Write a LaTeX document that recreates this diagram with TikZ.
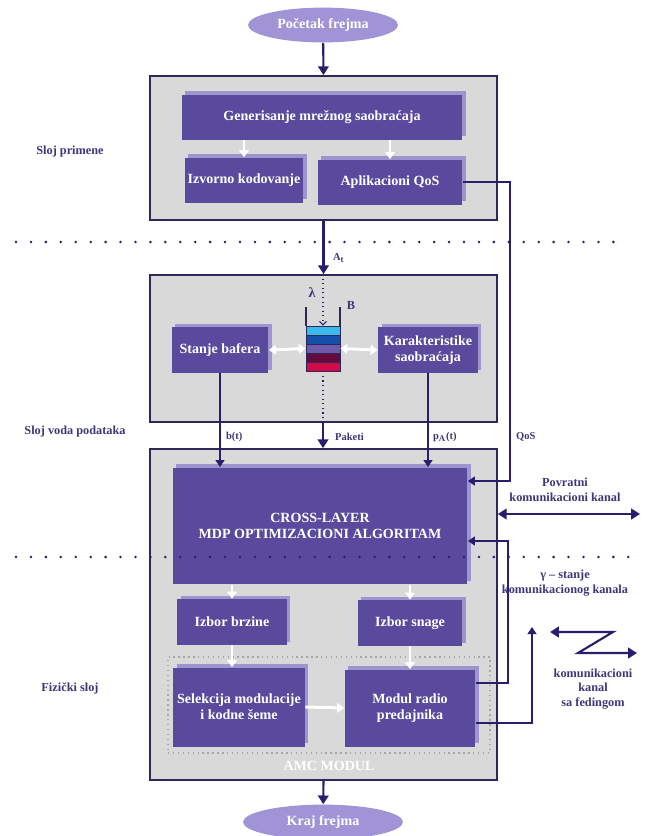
\documentclass[tikz,border=0pt]{standalone}
\usepackage{fontspec}
\setmainfont{Liberation Serif}
\usetikzlibrary{shapes.geometric, shadows, arrows.meta, positioning}

\definecolor{boxc}{RGB}{90,74,158}
\definecolor{shadowc}{RGB}{158,148,206}
\definecolor{panelc}{RGB}{217,217,217}
\definecolor{edgec}{RGB}{45,40,90}
\definecolor{arrowc}{RGB}{40,30,110}
\definecolor{labelc}{RGB}{60,55,120}
\definecolor{ellc}{RGB}{160,148,214}
\definecolor{bufa}{RGB}{60,185,235}
\definecolor{bufb}{RGB}{20,80,170}
\definecolor{bufc}{RGB}{110,90,170}
\definecolor{bufd}{RGB}{100,10,60}
\definecolor{bufe}{RGB}{210,10,70}

\begin{document}
\begin{tikzpicture}[
    x=0.02cm, y=-0.02cm,
    block/.style={rectangle, fill=boxc, text=white, font=\bfseries\fontsize{8}{9.2}\selectfont, align=center, inner sep=1pt,
        copy shadow={shadow xshift=0.07cm, shadow yshift=0.07cm, fill=shadowc, draw=none}},
    panel/.style={rectangle, draw=edgec, fill=panelc, line width=1pt, minimum width=6.94cm},
    endpoint/.style={ellipse, fill=ellc, text=white, font=\bfseries\fontsize{8}{9}\selectfont, minimum width=3cm, minimum height=0.68cm},
    layertext/.style={text=labelc, font=\bfseries\fontsize{7}{8.4}\selectfont, align=center},
    lbl/.style={text=labelc, font=\bfseries\fontsize{6}{7}\selectfont, inner sep=1pt},
    flow/.style={draw=arrowc, line width=1.2pt, -{Triangle[length=5pt,width=6pt]}},
    whiteflow/.style={draw=white, line width=1.7pt, -{Triangle[length=4pt,width=5.5pt]}},
    sigline/.style={draw=arrowc, line width=1pt, -{Triangle[length=4pt,width=5pt]}},
    divider/.style={draw=arrowc, line width=1.6pt, line cap=round, dash pattern=on 0pt off 8.5pt},
]
\useasboundingbox (0,0) rectangle (645,836);

% start / end of frame
\node (start) [endpoint] at (323,25) {Početak frejma};
\node (stop)  [endpoint, minimum width=3.2cm, minimum height=0.6cm] at (323,822) {Kraj frejma};

% layer panels
\node (app) [panel, minimum height=2.88cm] at (323.5,148) {};
\node (dll) [panel, minimum height=2.94cm] at (323.5,348.5) {};
\node (phy) [panel, minimum height=6.62cm] at (323.5,614.5) {};

\node (slojapp) [layertext] at (70,152) {Sloj primene};
\node (slojdll) [layertext] at (75,432) {Sloj voda podataka};
\node (slojphy) [layertext] at (70,688) {Fizički sloj};

% application layer
\node (gen)  [block, minimum width=5.62cm, minimum height=0.9cm] at (322,117) {Generisanje mrežnog saobraćaja};
\node (izv)  [block, minimum width=2.38cm, minimum height=0.9cm] at (244,180) {Izvorno kodovanje};
\node (qos)  [block, minimum width=2.9cm, minimum height=0.9cm] at (390,182) {Aplikacioni QoS};

% data link layer
\node (stanje) [block, minimum width=1.94cm, minimum height=0.92cm] at (220,350) {Stanje bafera};
\node (karak)  [block, minimum width=2.0cm, minimum height=0.92cm] at (428,350) {Karakteristike\\saobraćaja};
\node (buf) [minimum width=0.68cm, minimum height=0.9cm, inner sep=0pt] at (323,348.5) {};
\foreach \c [count=\i from 0] in {bufa,bufb,bufc,bufd,bufe}
    \draw[fill=\c, draw=edgec, line width=0.4pt] (306,{326+9*\i}) rectangle (340,{335+9*\i});
\draw[edgec, line width=0.7pt] (306,307) -- (306,326) (340,307) -- (340,326);
\node (lam)  [lbl, font=\bfseries\fontsize{8}{9}\selectfont] at (312,293) {λ};
\node (bcap) [lbl, font=\bfseries\fontsize{7}{8}\selectfont] at (351,305) {B};

% physical layer
\node (amc) [draw=gray!70, line width=1pt, dash pattern=on 0.8pt off 2pt, minimum width=6.44cm, minimum height=1.92cm] at (329,705) {};
\node (amclbl) [text=white, font=\bfseries\fontsize{8}{9}\selectfont, below=0.02cm of amc] {AMC MODUL};
\node (mdp)    [block, minimum width=5.9cm, minimum height=2.34cm] at (320,526) {CROSS-LAYER\\MDP OPTIMIZACIONI ALGORITAM};
\node (brzina) [block, minimum width=2.2cm, minimum height=0.92cm] at (232,622) {Izbor brzine};
\node (snaga)  [block, minimum width=2.1cm, minimum height=0.92cm] at (410,623) {Izbor snage};
\node (selek)  [block, minimum width=2.64cm, minimum height=1.58cm] at (239,707) {Selekcija modulacije\\i kodne šeme};
\node (modul)  [block, minimum width=2.62cm, minimum height=1.54cm] at (410,708) {Modul radio\\predajnika};

% main flow
\draw[flow] (start) -- (app.north);
\draw[flow] (app.south) -- (dll.north);
\node (arr) [lbl, anchor=west] at (331,258) {A\textsubscript{t}};
\draw[arrowc, line width=0.6pt, dotted, -{Straight Barb[length=2pt]}] (dll.north -| buf) -- (buf.north);
\draw[arrowc, line width=0.6pt, dotted] (buf.south) -- (dll.south -| buf);
\draw[flow] (dll.south -| buf) -- (phy.north -| buf);
\node (paketi) [lbl, anchor=west] at (333,437) {Paketi};
\draw[flow] (phy.south) -- (stop);

% inner white arrows
\draw[whiteflow] (izv.north |- gen.south) -- (izv.north);
\draw[whiteflow] (qos.north |- gen.south) -- (qos.north);
\draw[whiteflow, {Triangle[length=4pt,width=5.5pt]}-{Triangle[length=4pt,width=5.5pt]}] (stanje.east) -- (buf.west);
\draw[whiteflow, {Triangle[length=4pt,width=5.5pt]}-{Triangle[length=4pt,width=5.5pt]}] (buf.east) -- (karak.west);
\draw[whiteflow] (brzina.north |- mdp.south) -- (brzina.north);
\draw[whiteflow] (snaga.north |- mdp.south) -- (snaga.north);
\draw[whiteflow] (brzina.south) -- (brzina.south |- selek.north);
\draw[whiteflow] (snaga.south) -- (snaga.south |- modul.north);
\draw[whiteflow] (selek.east) -- (modul.west);

% signals to the algorithm
\draw[sigline] (stanje.south) -- (stanje.south |- mdp.north);
\node (bt) [lbl, anchor=west] at (224,437) {b(t)};
\draw[sigline] (karak.south) -- (karak.south |- mdp.north);
\node (pt) [lbl, anchor=west] at (431,437) {p\textsubscript{A}(t)};
\coordinate (qosx) at (510,0);
\draw[sigline] (qos.east) -- (qos.east -| qosx) |- ([yshift=0.9cm]mdp.east);
\node (qoslbl) [lbl, anchor=west] at (514,437) {QoS};
\coordinate (fbx) at (508,0);
\draw[sigline] ([yshift=0.5cm]modul.east) -- ([yshift=0.5cm]modul.east -| fbx) |- ([yshift=-0.3cm]mdp.east);
\coordinate (gamma) at (532,627);
\draw[sigline] ([yshift=-0.3cm]modul.east) -| (gamma);

% channel
\coordinate (povr) at (640,514);
\draw[flow, {Triangle[length=5pt,width=6pt]}-{Triangle[length=5pt,width=6pt]}] (povr -| phy.east) -- (povr);
\node (povrlbl) [layertext] at (565,490) {Povratni\\komunikacioni kanal};
\node (gamlbl)  [layertext] at (565,583) {γ – stanje\\komunikacionog kanala};
\coordinate (z1) at (550,632);
\coordinate (z2) at (613,632);
\coordinate (z3) at (578,653);
\coordinate (z4) at (637,653);
\draw[flow, {Triangle[length=5pt,width=6pt]}-{Triangle[length=5pt,width=6pt]}] (z1) -- (z2) -- (z3) -- (z4);
\node (fadlbl) [layertext] at (593,689) {komunikacioni\\kanal\\sa fedingom};

% layer borders
\draw[divider] (16,242) -- (625,242);
\draw[divider] (16,557) -- (640,557);

\end{tikzpicture}
\end{document}
